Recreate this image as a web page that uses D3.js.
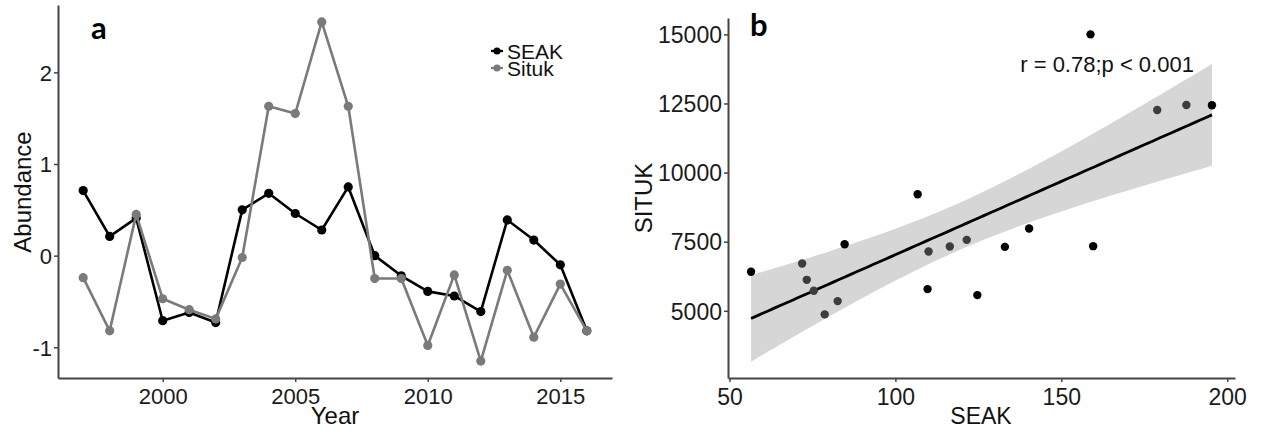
<!DOCTYPE html>
<html><head><meta charset="utf-8">
<script src="https://cdn.jsdelivr.net/npm/d3@7"></script>
<style>
body{margin:0;background:#fff;}
svg{display:block;font-family:"Liberation Sans",Arial,sans-serif;}
</style></head>
<body><svg id="c" width="1263" height="434"></svg>
<script>
// ---- Panel a data ----
const years = [1997,1998,1999,2000,2001,2002,2003,2004,2005,2006,2007,2008,2009,2010,2011,2012,2013,2014,2015,2016];
const seak  = [0.71,0.21,0.41,-0.71,-0.62,-0.73,0.50,0.68,0.46,0.28,0.75,0.00,-0.22,-0.39,-0.44,-0.61,0.39,0.17,-0.10,-0.82];
const situk = [-0.24,-0.82,0.45,-0.47,-0.59,-0.69,-0.02,1.63,1.55,2.55,1.63,-0.25,-0.25,-0.98,-0.21,-1.15,-0.16,-0.89,-0.31,-0.82];
const seriesNames = ["SEAK","Situk"];
const aYTicks = [-1,0,1,2];
const aXTicks = [2000,2005,2010,2015];

// ---- Panel b data ----
const seakAbund  = [56.5,71.9,73.3,75.4,78.7,82.6,84.7,106.7,110.0,109.7,116.4,121.5,124.7,133.0,140.3,158.8,159.6,178.9,187.7,195.4];
const situkAbund = [6410,6713,6120,5723,4870,5350,7410,9218,7146,5784,7327,7566,5567,7313,7978,15000,7338,12264,12445,12434];
const pointGroup = [1,2,2,2,2,2,1,1,2,1,2,2,1,1,1,1,1,2,2,1];
const bYTicks = [5000,7500,10000,12500,15000];
const bXTicks = [50,100,150,200];
const statLabel = "r = 0.78;p < 0.001";

const svg = d3.select("#c");
const axisCol = "#444";
const expand = (lo,hi)=>{const r=hi-lo;return [lo-0.05*r, hi+0.05*r];};

function drawAxes(g, x, y, xt, yt, fs){
  const xa = g.append("g").attr("transform",`translate(0,${y.range()[0]})`)
    .call(d3.axisBottom(x).tickValues(xt).tickSize(4).tickSizeOuter(0).tickFormat(d3.format("d")));
  const ya = g.append("g").attr("transform",`translate(${x.range()[0]},0)`)
    .call(d3.axisLeft(y).tickValues(yt).tickSize(4).tickSizeOuter(0).tickFormat(d=>d<0?"-"+Math.abs(d):String(d)));
  [xa,ya].forEach(a=>{
    a.select(".domain").attr("stroke",axisCol).attr("stroke-width",2);
    a.selectAll(".tick line").attr("stroke",axisCol).attr("stroke-width",1.5);
    a.selectAll(".tick text").attr("fill","#1a1a1a").attr("font-size",fs).attr("font-family","Liberation Sans, Arial, sans-serif");
  });
  xa.selectAll(".tick text").attr("dy","0.95em").attr("y",5);
  ya.selectAll(".tick text").attr("x",-6).attr("dy","0.36em");
}

// ================= Panel a =================
{
  const g = svg.append("g");
  const all = seak.concat(situk);
  const x = d3.scaleLinear().domain(expand(d3.min(years),d3.max(years))).range([58,612]);
  const y = d3.scaleLinear().domain(expand(d3.min(all),d3.max(all))).range([378,5]);
  drawAxes(g,x,y,aXTicks,aYTicks,22);
  const cols = {"SEAK":"#000000","Situk":"#7a7a7a"};
  const data = {"SEAK":seak,"Situk":situk};
  seriesNames.forEach(name=>{
    const vals = data[name];
    const pts = years.map((yr,i)=>[yr,vals[i]]);
    g.append("path").datum(pts)
      .attr("d",d3.line().x(d=>x(d[0])).y(d=>y(d[1])))
      .attr("fill","none").attr("stroke",cols[name]).attr("stroke-width",2.6).attr("stroke-linejoin","round");
    g.selectAll(null).data(pts).enter().append("circle")
      .attr("cx",d=>x(d[0])).attr("cy",d=>y(d[1])).attr("r",4.6).attr("fill",cols[name]);
  });
  // legend
  seriesNames.forEach((name,i)=>{
    const ly = 51 + i*17;
    g.append("line").attr("x1",491).attr("x2",503).attr("y1",ly).attr("y2",ly)
      .attr("stroke",cols[name]).attr("stroke-width",2.2);
    g.append("circle").attr("cx",497).attr("cy",ly).attr("r",3.6).attr("fill",cols[name]);
    g.append("text").attr("x",507).attr("y",ly+7.5).attr("font-size",21).attr("fill","#111").text(name);
  });
  g.append("text").attr("x",335).attr("y",424).attr("text-anchor","middle").attr("font-size",24).attr("fill","#111").text("Year");
  g.append("text").attr("transform","translate(31,192) rotate(-90)").attr("text-anchor","middle").attr("font-size",24).attr("fill","#111").text("Abundance");
  g.append("text").attr("x",91).attr("y",39).attr("font-family","Lato, sans-serif").attr("font-weight",700).attr("font-size",31).text("a");
}

// ================= Panel b =================
{
  const g = svg.append("g");
  const n = seakAbund.length;
  const mx = d3.mean(seakAbund), my = d3.mean(situkAbund);
  let sxx=0,sxy=0;
  for(let i=0;i<n;i++){sxx+=(seakAbund[i]-mx)**2; sxy+=(seakAbund[i]-mx)*(situkAbund[i]-my);}
  const slope = sxy/sxx, icpt = my - slope*mx;
  let sse=0; for(let i=0;i<n;i++){sse+=(situkAbund[i]-icpt-slope*seakAbund[i])**2;}
  const s = Math.sqrt(sse/(n-2)), tq = 2.100922;
  const xmin = d3.min(seakAbund), xmax = d3.max(seakAbund);
  const grid = d3.range(80).map(k=>xmin+(xmax-xmin)*k/79).map(xv=>{
    const fit = icpt+slope*xv;
    const se = s*Math.sqrt(1/n + (xv-mx)**2/sxx);
    return {x:xv, fit, lo:fit-tq*se, hi:fit+tq*se};
  });
  const ylo = Math.min(d3.min(situkAbund), d3.min(grid,d=>d.lo));
  const yhi = Math.max(d3.max(situkAbund), d3.max(grid,d=>d.hi));
  const x = d3.scaleLinear().domain(expand(xmin,xmax)).range([728,1235]);
  const y = d3.scaleLinear().domain(expand(ylo,yhi)).range([378,18]);
  g.append("path").datum(grid)
    .attr("d",d3.area().x(d=>x(d.x)).y0(d=>y(d.lo)).y1(d=>y(d.hi)))
    .attr("fill","#d6d6d6");
  g.append("path").datum(grid)
    .attr("d",d3.line().x(d=>x(d.x)).y(d=>y(d.fit)))
    .attr("fill","none").attr("stroke","#000").attr("stroke-width",2.8);
  const gcol = {1:"#000000",2:"#3d3d3d"};
  g.selectAll(null).data(d3.range(n)).enter().append("circle")
    .attr("cx",i=>x(seakAbund[i])).attr("cy",i=>y(situkAbund[i])).attr("r",4.2)
    .attr("fill",i=>gcol[pointGroup[i]]);
  drawAxes(g,x,y,bXTicks,bYTicks,23);
  g.append("text").attr("x",x(163.8)).attr("y",y(13650)).attr("text-anchor","middle").attr("font-size",22).attr("fill","#111").text(statLabel);
  g.append("text").attr("x",981).attr("y",424).attr("text-anchor","middle").attr("font-size",23).attr("fill","#111").text("SEAK");
  g.append("text").attr("transform","translate(652,198) rotate(-90)").attr("text-anchor","middle").attr("font-size",24).attr("fill","#111").text("SITUK");
  g.append("text").attr("x",750).attr("y",36).attr("font-family","Lato, sans-serif").attr("font-weight",700).attr("font-size",31).text("b");
}
</script></body></html>
